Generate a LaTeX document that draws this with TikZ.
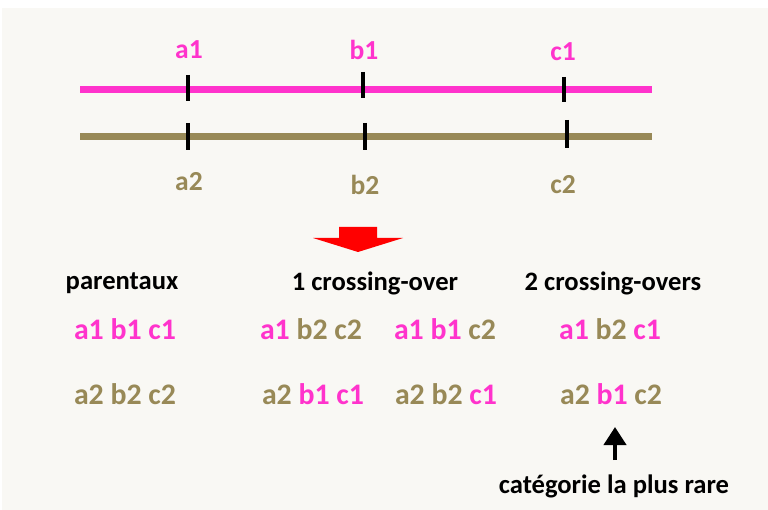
\documentclass[tikz,border=0pt]{standalone}
\usepackage{fontspec}
\setmainfont{Carlito}
\usetikzlibrary{arrows.meta}
\definecolor{bgc}{HTML}{F9F8F4}
\definecolor{pinkc}{HTML}{FF33CC}
\definecolor{olivec}{HTML}{988957}
\definecolor{redc}{HTML}{FF0000}
\newcommand{\pk}[1]{\textcolor{pinkc}{#1}}
\newcommand{\ol}[1]{\textcolor{olivec}{#1}}
\begin{document}
\begin{tikzpicture}[x=1pt,y=-1pt,
  lab/.style={font=\fontsize{27.5}{32}\selectfont\bfseries, inner sep=0pt},
  hdr/.style={font=\fontsize{26.6}{31}\selectfont\bfseries, inner sep=0pt, text=black},
  geno/.style={font=\fontsize{29.8}{34}\selectfont\bfseries, inner sep=0pt},
  tick/.style={line width=3.5pt, black},
  chrom/.style={line width=7pt}]
\useasboundingbox (0,0) rectangle (768,510);
\fill[white] (0,0) rectangle (768,510);
\fill[bgc] (2,8) rectangle (768,510);
% chromosomes
\draw[chrom, pinkc] (80,89.5) -- (652,89.5);
\draw[chrom, olivec] (80,136.5) -- (652,136.5);
% ticks
\draw[tick] (188,75) -- (188,101);
\draw[tick] (363,72) -- (363,98);
\draw[tick] (564,77) -- (564,102);
\draw[tick] (188,123) -- (188,150);
\draw[tick] (365,123) -- (365,150);
\draw[tick] (567,120) -- (567,148);
% labels
\node[lab, text=pinkc] (a1) at (189,50) {a1};
\node[lab, text=pinkc] (b1) at (364,50) {b1};
\node[lab, text=pinkc] (c1) at (563,52) {c1};
\node[lab, text=olivec] (a2) at (189,182) {a2};
\node[lab, text=olivec] (b2) at (365,185) {b2};
\node[lab, text=olivec] (c2) at (563,185) {c2};
% red block arrow
\fill[redc] (339,227) -- (377,227) -- (377,238) -- (403,238) -- (358,252) -- (313,238) -- (339,238) -- cycle;
% headers
\node[hdr] (par) at (122,283) {parentaux};
\node[hdr] (one) at (375,283) {1 crossing-over};
\node[hdr] (two) at (613,283) {2 crossing-overs};
% genotypes
\node[geno] (g11) at (125,329) {\pk{a1 b1 c1}};
\node[geno] (g12) at (311,329) {\pk{a1} \ol{b2 c2}};
\node[geno] (g13) at (445,329) {\pk{a1 b1} \ol{c2}};
\node[geno] (g14) at (610,329) {\pk{a1} \ol{b2} \pk{c1}};
\node[geno] (g21) at (125,394) {\ol{a2 b2 c2}};
\node[geno] (g22) at (313,394) {\ol{a2} \pk{b1 c1}};
\node[geno] (g23) at (446,394) {\ol{a2 b2} \pk{c1}};
\node[geno] (g24) at (611,394) {\ol{a2} \pk{b1} \ol{c2}};
% rare
\node[hdr] (rare) at (614,486) {catégorie la plus rare};
\coordinate (tip) at (615,427);
\draw[line width=4pt, -{Triangle[width=22pt,length=18pt]}] (615,460) -- (tip);
\end{tikzpicture}
\end{document}
